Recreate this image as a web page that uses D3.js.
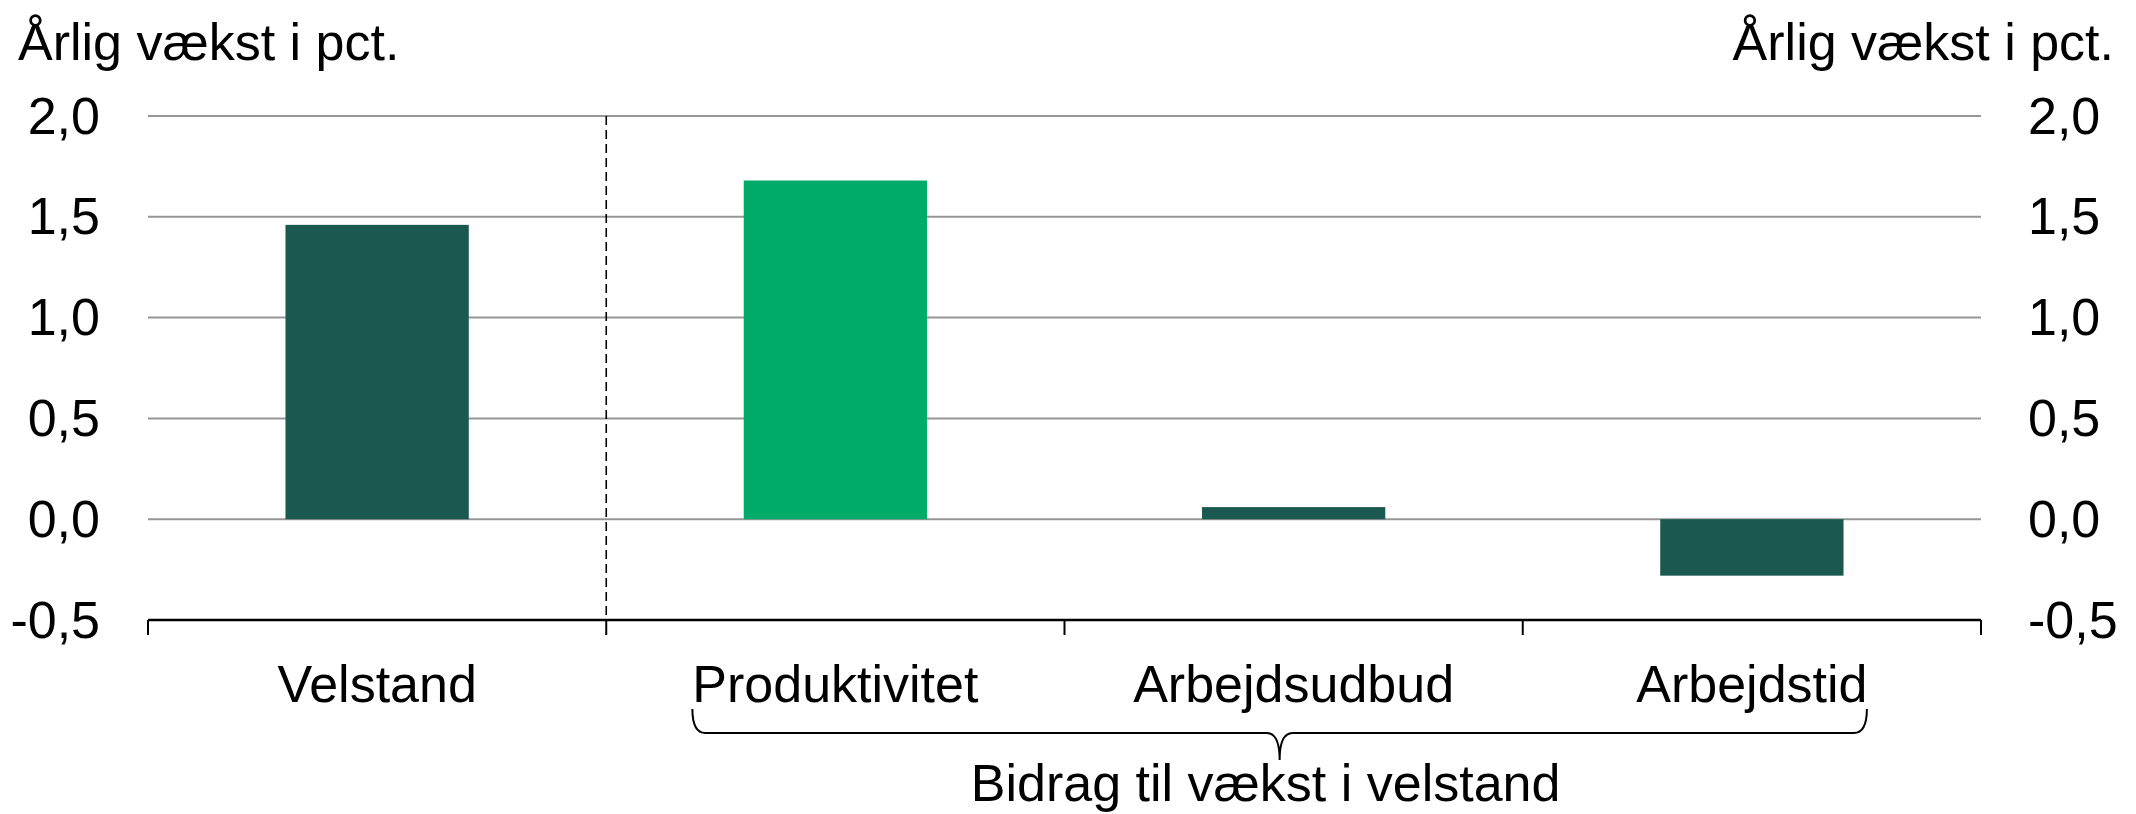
<!DOCTYPE html>
<html>
<head>
<meta charset="utf-8">
<script src="https://cdn.jsdelivr.net/npm/d3@7"></script>
<style>
  body { margin: 0; background: #fff; }
  text { font-family: "Liberation Sans", Arial, sans-serif; fill: #000; }
</style>
</head>
<body>
<div id="chart"></div>
<script>
var categories = ["Velstand", "Produktivitet", "Arbejdsudbud", "Arbejdstid"];
var values = [1.46, 1.68, 0.06, -0.28];
var barColors = ["#1a5850", "#00ab69", "#1a5850", "#1a5850"];
var tickValues = [-0.5, 0.0, 0.5, 1.0, 1.5, 2.0];
var axisTitle = "Årlig vækst i pct.";
var groupLabel = "Bidrag til vækst i velstand";

var W = 2136, H = 814;
var margin = { top: 116, right: 155, bottom: 194, left: 148 };
var width = W - margin.left - margin.right,
    height = H - margin.top - margin.bottom;
var fs = 52;

var svg = d3.select("#chart").append("svg")
    .attr("width", W)
    .attr("height", H);

var g = svg.append("g")
    .attr("transform", "translate(" + margin.left + "," + margin.top + ")");

var x = d3.scaleBand().domain(categories).range([0, width]).paddingInner(0.6).paddingOuter(0.3);
var xb = d3.scaleBand().domain(categories).range([0, width]);
var y = d3.scaleLinear().domain([-0.5, 2.0]).range([height, 0]);

var fmt = function(d) { return d3.format(".1f")(d).replace(".", ",").replace("−", "-"); };

// grid lines
g.selectAll(".grid").data(tickValues.filter(function(d) { return d > -0.5; }))
  .enter().append("line")
    .attr("x1", 0).attr("x2", width)
    .attr("y1", function(d) { return y(d); })
    .attr("y2", function(d) { return y(d); })
    .style("stroke", "#969696")
    .style("stroke-width", 2);

// dashed separator after first category
g.append("line")
    .attr("x1", xb.step()).attr("x2", xb.step())
    .attr("y1", y(2.0)).attr("y2", y(-0.5))
    .style("stroke", "#000")
    .style("stroke-width", 1.6)
    .style("stroke-dasharray", "9,5");

// bars
g.selectAll(".bar").data(values).enter().append("rect")
    .attr("x", function(d, i) { return x(categories[i]); })
    .attr("width", x.bandwidth())
    .attr("y", function(d) { return y(Math.max(0, d)); })
    .attr("height", function(d) { return Math.abs(y(d) - y(0)); })
    .attr("fill", function(d, i) { return barColors[i]; });

// bottom axis
var xAxis = g.append("g")
    .attr("transform", "translate(0," + height + ")");
xAxis.append("line")
    .attr("x1", 0).attr("x2", width)
    .style("stroke", "#000").style("stroke-width", 2.5);
xAxis.selectAll(".tick").data(d3.range(categories.length + 1))
  .enter().append("line")
    .attr("x1", function(i) { return i * xb.step(); })
    .attr("x2", function(i) { return i * xb.step(); })
    .attr("y1", 0).attr("y2", 15)
    .style("stroke", "#000").style("stroke-width", 2);
xAxis.selectAll(".lbl").data(categories).enter().append("text")
    .attr("x", function(d) { return xb(d) + xb.bandwidth() / 2; })
    .attr("y", 82)
    .style("text-anchor", "middle")
    .style("font-size", fs + "px")
    .text(function(d) { return d; });

// y tick labels, both sides
g.selectAll(".yl").data(tickValues).enter().append("text")
    .attr("x", -48).attr("y", function(d) { return y(d); })
    .attr("dy", "0.34em")
    .style("text-anchor", "end")
    .style("font-size", fs + "px")
    .text(fmt);
g.selectAll(".yr").data(tickValues).enter().append("text")
    .attr("x", width + 47).attr("y", function(d) { return y(d); })
    .attr("dy", "0.34em")
    .style("text-anchor", "start")
    .style("font-size", fs + "px")
    .text(fmt);

// axis titles
svg.append("text")
    .attr("x", 18).attr("y", 60)
    .style("font-size", fs + "px")
    .text(axisTitle);
svg.append("text")
    .attr("x", 2114).attr("y", 60)
    .style("text-anchor", "end")
    .style("font-size", fs + "px")
    .text(axisTitle);

// bracket under the contribution categories
var bl = xb(categories[1]) + xb.bandwidth() / 2 - 143;
var br = xb(categories[3]) + xb.bandwidth() / 2 + 115;
var bm = (bl + br) / 2;
var bTop = height + 89, bMid = height + 113, bTip = height + 140;
var r = 13;
g.append("path")
    .attr("d", "M" + bl + "," + bTop +
      " Q" + bl + "," + bMid + " " + (bl + r) + "," + bMid +
      " L" + (bm - r) + "," + bMid +
      " Q" + bm + "," + bMid + " " + bm + "," + bTip +
      " Q" + bm + "," + bMid + " " + (bm + r) + "," + bMid +
      " L" + (br - r) + "," + bMid +
      " Q" + br + "," + bMid + " " + br + "," + bTop)
    .style("fill", "none")
    .style("stroke", "#000")
    .style("stroke-width", 2);

g.append("text")
    .attr("x", bm - 14).attr("y", height + 181)
    .style("text-anchor", "middle")
    .style("font-size", fs + "px")
    .text(groupLabel);
</script>
</body>
</html>
